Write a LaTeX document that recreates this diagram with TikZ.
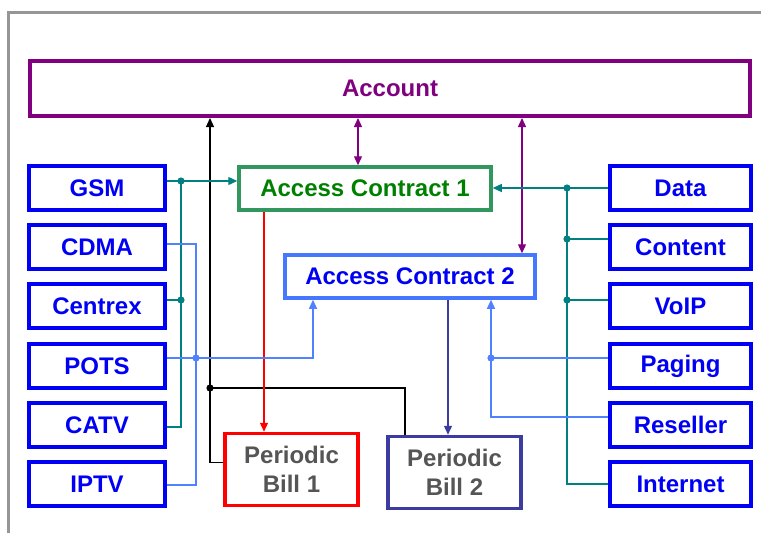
\documentclass[tikz,border=0pt]{standalone}
\usepackage{fontspec}
\setmainfont{Liberation Sans}
\definecolor{framegray}{RGB}{150, 150, 150}
\definecolor{acctpurple}{RGB}{128, 0, 128}
\definecolor{netblue}{RGB}{0, 0, 245}
\definecolor{ac1green}{RGB}{50, 150, 95}
\definecolor{ac1text}{RGB}{0, 128, 0}
\definecolor{ac2blue}{RGB}{70, 120, 255}
\definecolor{lineblue}{RGB}{80, 130, 255}
\definecolor{netteal}{RGB}{0, 128, 128}
\definecolor{billred}{RGB}{255, 0, 0}
\definecolor{billslate}{RGB}{60, 60, 160}
\definecolor{billtext}{RGB}{85, 85, 85}
\usetikzlibrary{arrows.meta}
\tikzset{
    box/.style={draw, line width=3.5pt, inner sep=0pt,
        font=\fontsize{24}{29}\selectfont\bfseries},
    netbox/.style={box, draw=netblue, text=netblue,
        minimum width=136pt, minimum height=44pt},
    servicebox/.style={netbox, minimum width=141pt},
    contract/.style={box, minimum width=252pt, minimum height=43pt},
    bill/.style={box, text=billtext, align=center,
        minimum width=133pt, minimum height=72pt},
    link/.style={line width=1.3pt},
    arrowed/.style={-{Triangle[length=9pt, width=8pt]}},
    twoway/.style={{Triangle[length=9pt, width=8pt]}-{Triangle[length=9pt, width=8pt]}},
}

\begin{document}
\begin{tikzpicture}[x=1pt, y=-1pt]
    \useasboundingbox (0, 0) rectangle (761, 533);
    \draw[framegray, line width=3pt] (8, 533) -- (8, 12) -- (761, 12);

    \node[box, draw=acctpurple, text=acctpurple, line width=4pt,
        minimum width=720pt, minimum height=55pt] (account) at (390, 88.5) {Account};
    \node[contract, draw=ac1green, text=ac1text] (ac1) at (365, 188.5) {Access Contract 1};
    \node[contract, draw=ac2blue, text=netblue, minimum width=250pt] (ac2) at (410, 276.5)
        {Access Contract 2};
    \node[bill, draw=billred] (bill1) at (291.5, 469.5) {Periodic\\Bill 1};
    \node[bill, draw=billslate] (bill2) at (454.5, 472.5) {Periodic\\Bill 2};

    \foreach \name/\txt/\y in {gsm/GSM/188, cdma/CDMA/247, centrex/Centrex/306,
        pots/POTS/366, catv/CATV/425, iptv/IPTV/484}
        \node[netbox] (\name) at (97, \y) {\txt};
    \foreach \name/\txt/\y in {data/Data/188, content/Content/247, voip/VoIP/306,
        paging/Paging/366, reseller/Reseller/425, internet/Internet/484}
        \node[servicebox] (\name) at (680.5, \y) {\txt};

    \coordinate (billjoint) at (210, 388);
    \coordinate (gsmjoint) at (181, 181);
    \coordinate (centrexjoint) at (181, 300);
    \coordinate (potsjoint) at (196, 358);
    \coordinate (datajoint) at (567, 188);
    \coordinate (contentjoint) at (567, 239);
    \coordinate (voipjoint) at (567, 300);
    \coordinate (pagingjoint) at (491, 358);

    \draw[link, black, arrowed] ([yshift=7pt]bill1.west) -| (account.south -| billjoint);
    \draw[link, black] (billjoint) -| (bill2.north -| 405, 0);
    \draw[link, acctpurple, twoway] (account.south -| 358, 0) -- (ac1.north -| 358, 0);
    \draw[link, acctpurple, twoway] (account.south -| 522, 0) -- (ac2.north -| 522, 0);
    \draw[link, billred, arrowed] (ac1.south -| 264, 0) -- (bill1.north -| 264, 0);
    \draw[link, billslate, arrowed] (ac2.south -| 448, 0) -- (bill2.north -| 448, 0);

    \draw[link, netteal, arrowed] (gsm.east |- gsmjoint) -- (ac1.west |- gsmjoint);
    \draw[link, netteal] (gsmjoint) |- (catv.east |- 0, 427);
    \draw[link, netteal] (centrex.east |- centrexjoint) -- (centrexjoint);
    \draw[link, lineblue] (cdma.east |- 0, 244) -| (potsjoint) |- (iptv.east |- 0, 485);
    \draw[link, lineblue, arrowed] (pots.east |- potsjoint) -| (ac2.south -| 313, 0);

    \draw[link, netteal, arrowed] (data.west) -- (ac1.east |- data.west);
    \draw[link, netteal] (datajoint) |- (internet.west);
    \draw[link, netteal] (content.west |- contentjoint) -- (contentjoint);
    \draw[link, netteal] (voip.west |- voipjoint) -- (voipjoint);
    \draw[link, lineblue, arrowed] (paging.west |- pagingjoint) -| (ac2.south -| pagingjoint);
    \draw[link, lineblue] (pagingjoint) |- (reseller.west |- 0, 417);

    \foreach \pt/\col in {billjoint/black, gsmjoint/netteal, centrexjoint/netteal,
        potsjoint/lineblue, datajoint/netteal, contentjoint/netteal,
        voipjoint/netteal, pagingjoint/lineblue}
        \fill[\col] (\pt) circle (3.6pt);
\end{tikzpicture}
\end{document}
